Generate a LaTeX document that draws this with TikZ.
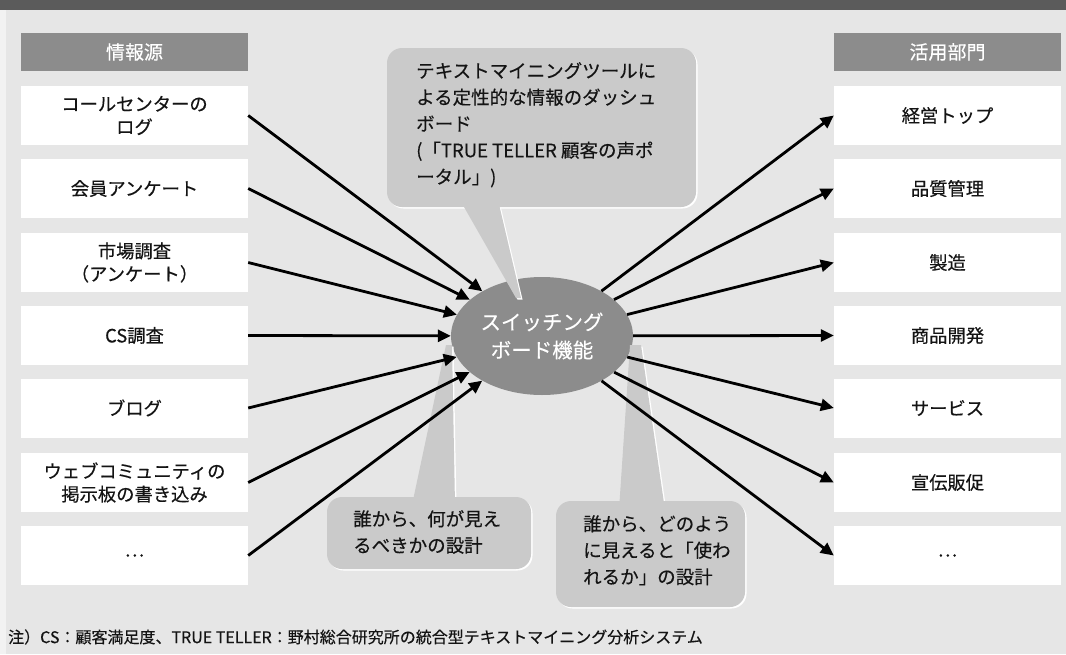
\documentclass[tikz,border=0pt]{standalone}
\usepackage{fontspec}
\setmainfont{Noto Sans CJK JP}[FakeBold=0.35]
\usetikzlibrary{shapes.geometric,arrows.meta}
\definecolor{barc}{HTML}{5B5B5B}
\definecolor{panelc}{HTML}{E6E6E6}
\definecolor{edgec}{HTML}{F2F2F2}
\definecolor{headc}{HTML}{8C8C8C}
\definecolor{callc}{HTML}{CACACA}
\definecolor{txtc}{HTML}{141414}
\tikzset{
  boxtext/.style={font=\fontsize{18.3}{23}\selectfont, text=txtc, align=center},
  srcbox/.style={boxtext, fill=white, minimum width=227pt, minimum height=59pt, inner sep=0pt},
  headbox/.style={fill=headc, text=white, font=\fontsize{19}{23}\selectfont, minimum width=227pt, minimum height=38pt, inner sep=0pt},
  hub/.style={ellipse, fill=headc, text=white, font=\fontsize{20.5}{28}\selectfont, align=center, minimum width=182pt, minimum height=118pt, inner sep=0pt},
  arr/.style={line width=2.8pt, draw=black, -{Triangle[length=13pt,width=12pt]}},
  calltext/.style={font=\fontsize{18.5}{26.5}\selectfont, text=txtc, align=left, anchor=north west, inner sep=0pt},
  callfill/.style={fill=callc, rounded corners=15pt},
  callwhite/.style={fill=white, rounded corners=15pt},
}
\begin{document}
\begin{tikzpicture}[x=1pt,y=-1pt]
\useasboundingbox (0,0) rectangle (1066,654);
\fill[edgec] (0,0) rectangle (1066,654);
\fill[panelc] (6,10) rectangle (1066,654);
\fill[barc] (0,0) rectangle (1066,10);

% headers
\node[headbox] (hl) at (134.5,52) {情報源};
\node[headbox] (hr) at (947.5,52) {活用部門};

% source boxes
\node[srcbox] (s1) at (134.5,115.5) {コールセンターの\\ログ};
\node[srcbox] (s2) at (134.5,188.5) {会員アンケート};
\node[srcbox] (s3) at (134.5,262.5) {市場調査\\（アンケート）};
\node[srcbox] (s4) at (134.5,335.5) {CS調査};
\node[srcbox] (s5) at (134.5,408) {ブログ};
\node[srcbox] (s6) at (134.5,482.5) {ウェブコミュニティの\\掲示板の書き込み};
\node[srcbox] (s7) at (134.5,555.5) {…};

% target boxes
\node[srcbox] (t1) at (947.5,115.5) {経営トップ};
\node[srcbox] (t2) at (947.5,188.5) {品質管理};
\node[srcbox] (t3) at (947.5,262.5) {製造};
\node[srcbox] (t4) at (947.5,335.5) {商品開発};
\node[srcbox] (t5) at (947.5,408) {サービス};
\node[srcbox] (t6) at (947.5,482.5) {宣伝販促};
\node[srcbox] (t7) at (947.5,555.5) {…};

% hub
\node[hub] (sw) at (542,336) {スイッチング\\ボード機能};

% callouts: white offset copies
\begin{scope}[shift={(1.5,1.5)}]
\fill[callwhite] (387,48) rectangle (696,207);
\fill[white] (460,200) -- (498,200) -- (521,298) -- (516,298) -- cycle;
\fill[callwhite] (327,497) rectangle (531,569);
\fill[white] (412,505) -- (455,505) -- (452,345) -- (446,345) -- cycle;
\fill[callwhite] (556,501) rectangle (745,607);
\fill[white] (619,510) -- (665,510) -- (641,345) -- (630,345) -- cycle;
\end{scope}
\fill[callfill] (387,48) rectangle (696,207);
\fill[callc] (460,200) -- (498,200) -- (521,298) -- (516,298) -- cycle;
\fill[callfill] (327,497) rectangle (531,569);
\fill[callc] (412,505) -- (455,505) -- (452,345) -- (446,345) -- cycle;
\fill[callfill] (556,501) rectangle (745,607);
\fill[callc] (619,510) -- (665,510) -- (641,345) -- (630,345) -- cycle;

\node[calltext] (c1) at (416,62) {テキストマイニングツールに\\よる定性的な情報のダッシュ\\ボード\\(「TRUE TELLER 顧客の声ポ\\ータル」)};
\node[calltext] (c2) at (353,510) {誰から、何が見え\\るべきかの設計};
\node[calltext] (c3) at (583,515) {誰から、どのよう\\に見えると「使わ\\れるか」の設計};

% arrows
\foreach \i in {1,...,7} {
  \draw[arr] (s\i.east) -- (sw);
  \draw[arr] (sw) -- (t\i.west);
}

% footnote
\node[anchor=west, inner sep=0pt, font=\fontsize{16}{18}\selectfont, text=txtc] (fn) at (8,637) {注）CS：顧客満足度、TRUE TELLER：野村総合研究所の統合型テキストマイニング分析システム};
\end{tikzpicture}
\end{document}
